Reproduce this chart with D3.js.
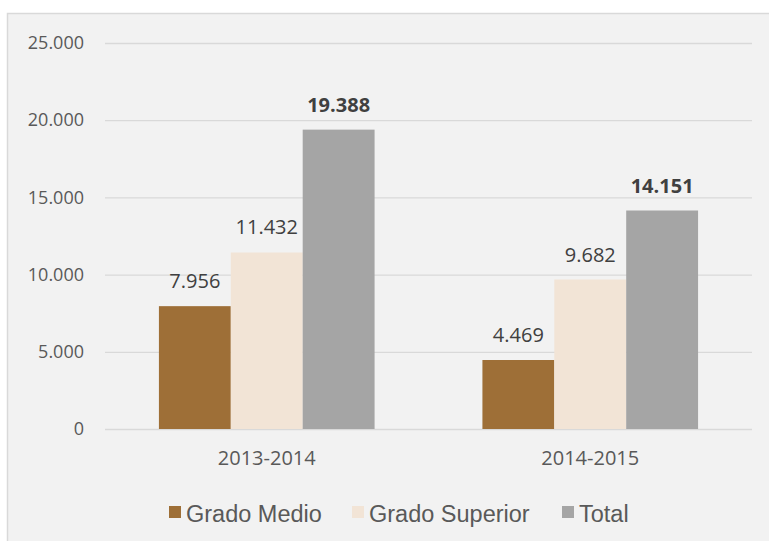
<!DOCTYPE html>
<html lang="es">
<head>
    <meta charset="UTF-8">
    <title>Grado Medio / Grado Superior</title>
    <script src="https://cdnjs.cloudflare.com/ajax/libs/d3/7.8.5/d3.min.js"></script>
    <style type="text/css">
        body { margin: 0; background: #ffffff; }
        svg { display: block; }
    </style>
</head>
<body>
    <div id="onlydiv"></div>
    <script type="text/javascript">

        // Data
        var cursos = ["2013-2014", "2014-2015"];
        var series = ["Grado Medio", "Grado Superior", "Total"];
        var gradoMedio = [7956, 4469];
        var gradoSuperior = [11432, 9682];
        var total = [19388, 14151];
        var yTicks = [0, 5000, 10000, 15000, 20000, 25000];
        var colores = ["#9e6f37", "#f2e4d6", "#a5a5a5"];

        var valores = [gradoMedio, gradoSuperior, total];

        // Size variables
        var w = 769;
        var h = 541;
        var plotLeft = 105, plotRight = 752, plotTop = 43, plotBottom = 429;

        var svg = d3.select("#onlydiv")
            .append("svg")
            .attr("width", w)
            .attr("height", h);

        // chart area background
        svg.append("rect")
            .attr("x", 7.5)
            .attr("y", 13.5)
            .attr("width", w + 10)
            .attr("height", h + 10)
            .attr("fill", "#f2f2f2")
            .attr("stroke", "#d9d9d9")
            .attr("stroke-width", 1.5);

        // scales
        var xScale = d3.scaleBand()
            .domain(cursos)
            .range([plotLeft, plotRight]);

        var xInner = d3.scaleBand()
            .domain(series)
            .range([0, xScale.bandwidth()])
            .paddingInner(0)
            .paddingOuter(0.75);

        var yScale = d3.scaleLinear()
            .domain([0, 25000])
            .range([plotBottom, plotTop]);

        var fmt = function(v) {
            return v === 0 ? "0" : d3.format(",")(v).replace(/,/g, ".");
        };

        // gridlines
        var yAxis = d3.axisLeft(yScale)
            .tickValues(yTicks)
            .tickSize(-(plotRight - plotLeft))
            .tickPadding(21)
            .tickFormat(fmt);

        var gy = svg.append("g")
            .attr("class", "axis")
            .attr("transform", "translate(" + plotLeft + ",0)")
            .call(yAxis);

        gy.select(".domain").remove();
        gy.selectAll(".tick line")
            .attr("stroke", "#d9d9d9")
            .attr("stroke-width", 1.3);
        gy.selectAll(".tick text")
            .attr("fill", "#595959")
            .attr("font-family", "'Open Sans', sans-serif")
            .attr("font-size", "18px");

        // bars
        var groups = svg.selectAll(".grupo")
            .data(cursos)
            .enter()
            .append("g")
            .attr("class", "grupo")
            .attr("transform", function(d) { return "translate(" + xScale(d) + ",0)"; });

        var filas = function(d, i) {
            return series.map(function(s, j) { return {serie: s, valor: valores[j][i], j: j}; });
        };

        groups.selectAll("rect")
            .data(filas)
            .enter()
            .append("rect")
            .attr("x", function(d) { return xInner(d.serie); })
            .attr("y", function(d) { return yScale(d.valor); })
            .attr("width", xInner.bandwidth())
            .attr("height", function(d) { return plotBottom - yScale(d.valor); })
            .attr("fill", function(d) { return colores[d.j]; });

        // data labels
        groups.selectAll("text.etiqueta")
            .data(filas)
            .enter()
            .append("text")
            .attr("class", "etiqueta")
            .attr("x", function(d) { return xInner(d.serie) + xInner.bandwidth() / 2; })
            .attr("y", function(d) { return yScale(d.valor) - 18; })
            .attr("text-anchor", "middle")
            .attr("fill", "#404040")
            .attr("font-family", "'Open Sans', sans-serif")
            .attr("font-size", "20px")
            .attr("font-weight", function(d) { return d.j === 2 ? "bold" : "normal"; })
            .text(function(d) { return fmt(d.valor); });

        // x axis labels
        svg.selectAll(".cat")
            .data(cursos)
            .enter()
            .append("text")
            .attr("class", "cat")
            .attr("x", function(d) { return xScale(d) + xScale.bandwidth() / 2; })
            .attr("y", 465)
            .attr("text-anchor", "middle")
            .attr("fill", "#595959")
            .attr("font-family", "'Open Sans', sans-serif")
            .attr("font-size", "20px")
            .text(function(d) { return d; });

        // legend
        var legendX = [169, 352, 562];
        var legend = svg.selectAll(".leyenda")
            .data(series)
            .enter()
            .append("g")
            .attr("class", "leyenda")
            .attr("transform", function(d, i) { return "translate(" + legendX[i] + ",506)"; });

        legend.append("rect")
            .attr("width", 12)
            .attr("height", 12)
            .attr("fill", function(d, i) { return colores[i]; });

        legend.append("text")
            .attr("x", 17)
            .attr("y", 16)
            .attr("fill", "#595959")
            .attr("font-family", "'Liberation Sans', Arial, sans-serif")
            .attr("font-size", "23.5px")
            .text(function(d) { return d; });

    </script>
</body>
</html>
